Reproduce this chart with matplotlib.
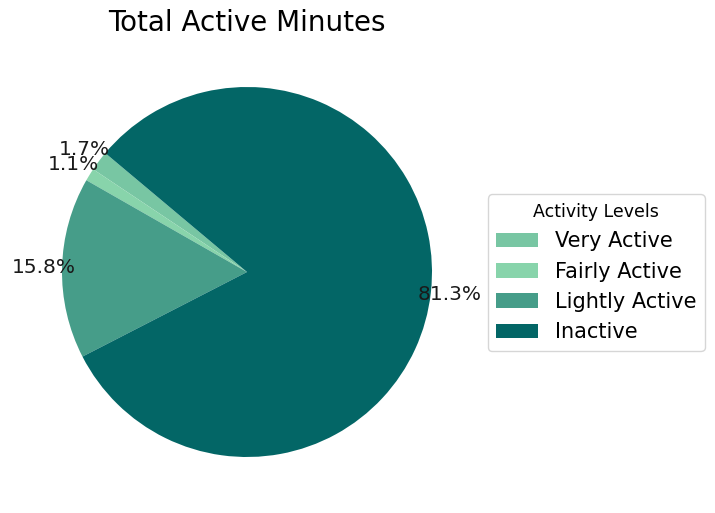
import matplotlib
matplotlib.use("Agg")
import matplotlib.pyplot as plt

labels = ["Very Active", "Fairly Active", "Lightly Active", "Inactive"]
values = [1.74, 1.11, 15.82, 81.33]
colors = ["#78c6a3", "#88d4ab", "#469d89", "#036666"]

fig = plt.figure(figsize=(7.15, 5.13), dpi=100)
ax = fig.add_axes([15.75 / 715, 9.75 / 513, 462.5 / 715, 462.5 / 513])
wedges, texts, autotexts = ax.pie(
    values, colors=colors, autopct="%1.1f%%", startangle=140,
    pctdistance=1.1, textprops={"fontsize": 14.5, "color": "#1a1a1a"})
ax.set_aspect("equal")
ax.set_title("Total Active Minutes", fontsize=20, pad=7)

leg = fig.legend(wedges, labels, title="Activity Levels", loc="center left",
                 bbox_to_anchor=(488 / 715, (513 - 272.5) / 513),
                 borderaxespad=0, fontsize=15, title_fontsize=12.5)

fig.savefig("out.png", dpi=100)
